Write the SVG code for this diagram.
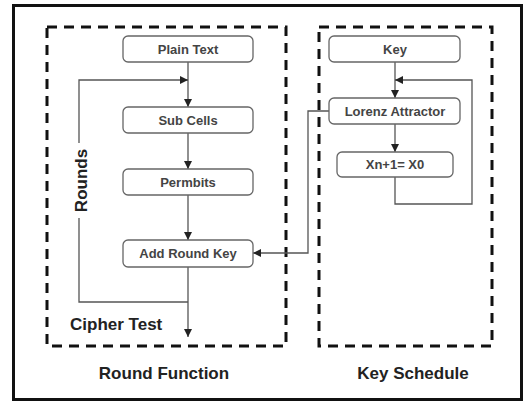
<svg xmlns="http://www.w3.org/2000/svg" width="529" height="403" viewBox="0 0 529 403">
<style>
.node rect{fill:#fff;stroke:#666;stroke-width:1.3}
.node text{font-family:"Liberation Sans",Arial,sans-serif;font-weight:bold;font-size:13px;fill:#444;text-anchor:middle}
.lbl{font-family:"Liberation Sans",Arial,sans-serif;font-weight:bold;font-size:17px;fill:#222}
.dash{fill:none;stroke:#111;stroke-width:3;stroke-dasharray:10 7}
#connectors path{fill:none;stroke:#555;stroke-width:1.3}
</style>
<defs>
<marker id="ah" viewBox="0 0 10 10" refX="10" refY="5" markerWidth="8" markerHeight="8" markerUnits="userSpaceOnUse" orient="auto">
<path d="M0,0 L10,5 L0,10 z" fill="#222"/>
</marker>
</defs>
<rect width="529" height="403" fill="#fff"/>
<rect x="13.5" y="5.5" width="508" height="394" fill="none" stroke="#111" stroke-width="3"/>
<rect class="dash" x="47" y="27" width="239" height="319"/>
<rect class="dash" x="319" y="27" width="173" height="319"/>
<g id="connectors">
<path d="M188,62 V107" marker-end="url(#ah)"/>
<path d="M188,133 V169" marker-end="url(#ah)"/>
<path d="M188,195 V240" marker-end="url(#ah)"/>
<path d="M188,267 V337" marker-end="url(#ah)"/>
<path d="M188,302 H79 V80 H188" marker-end="url(#ah)"/>
<path d="M395,62 V98" marker-end="url(#ah)"/>
<path d="M395,124 V152" marker-end="url(#ah)"/>
<path d="M395,177 V204 H472 V80 H395" marker-end="url(#ah)"/>
<path d="M329,111 H308 V253 H253" marker-end="url(#ah)"/>
</g>
<g id="plain-text" class="node"><rect x="123" y="36" width="130" height="26" rx="5"/><text x="188" y="53.5">Plain Text</text></g>
<g id="sub-cells" class="node"><rect x="123" y="107" width="130" height="26" rx="5"/><text x="188" y="124.5">Sub Cells</text></g>
<g id="permbits" class="node"><rect x="123" y="169" width="130" height="26" rx="5"/><text x="188" y="186.5">Permbits</text></g>
<g id="add-round-key" class="node"><rect x="123" y="240" width="130" height="27" rx="5"/><text x="188" y="258">Add Round Key</text></g>
<g id="key" class="node"><rect x="329" y="36" width="131" height="26" rx="5"/><text x="395" y="53.5">Key</text></g>
<g id="lorenz" class="node"><rect x="329" y="98" width="131" height="26" rx="5"/><text x="395" y="115.5">Lorenz Attractor</text></g>
<g id="xn" class="node"><rect x="337" y="152" width="116" height="25" rx="5"/><text x="395" y="169">Xn+1= X0</text></g>
<g id="rounds-label">
<rect x="71" y="143" width="17" height="75" fill="#fff"/>
<text class="lbl" transform="translate(86.5,180.5) rotate(-90)" text-anchor="middle" font-size="19">Rounds</text>
</g>
<text class="lbl" x="70" y="330">Cipher Test</text>
<text class="lbl" x="164" y="379" text-anchor="middle">Round Function</text>
<text class="lbl" x="413" y="379" text-anchor="middle">Key Schedule</text>
</svg>
